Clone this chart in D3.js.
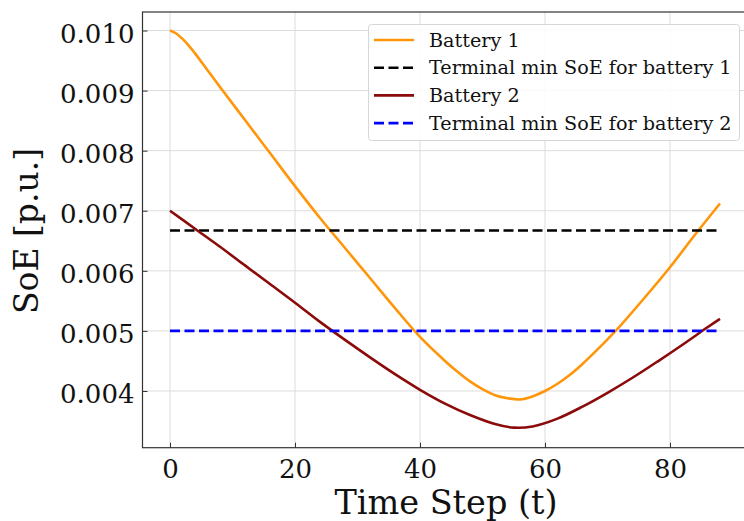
<!DOCTYPE html>
<meta charset="utf-8">
<script src="https://cdn.jsdelivr.net/npm/d3@7"></script>
<style>
  body { margin: 0; background: #fff; }
  svg { display: block; }
  text { font-family: "DejaVu Serif", serif; fill: #111; }
</style>
<body>
<script>

// values
var steps1 = [0, 1, 2, 3, 4, 6, 8, 12, 16, 20, 24, 28, 32, 36, 40, 44, 46, 48, 50, 52, 54, 56, 58, 60, 62, 64, 66, 68, 70, 72, 76, 80, 84, 88]
var battery1 = [0.01000, 0.00995, 0.00986, 0.00975, 0.00962, 0.00934, 0.00906, 0.00851, 0.00796, 0.00741, 0.00688, 0.00638, 0.00588, 0.00538, 0.00490,
                0.00450, 0.00432, 0.00416, 0.00403, 0.00393, 0.00388, 0.00386, 0.00391, 0.00400, 0.00412, 0.00427, 0.00445, 0.00465, 0.00486, 0.00508,
                0.00556, 0.00606, 0.00660, 0.00712]
var steps2 = [0, 4, 8, 12, 16, 20, 24, 28, 32, 36, 40, 44, 48, 52, 55, 58, 62, 66, 70, 74, 78, 82, 86, 88]
var battery2 = [0.00700, 0.00670, 0.00640, 0.00609, 0.00578, 0.00547, 0.00515, 0.00485, 0.00456, 0.00428, 0.00402, 0.00379, 0.00360, 0.00345,
                0.00339, 0.00341, 0.00354, 0.00374, 0.00397, 0.00422, 0.00449, 0.00477, 0.00506, 0.00520]
var termMin1 = 0.00667
var termMin2 = 0.00500
var lastStep = 88

var xTicks = [0, 20, 40, 60, 80]
var yTicks = [0.004, 0.005, 0.006, 0.007, 0.008, 0.009, 0.010]
var legendLabels = ["Battery 1", "Terminal min SoE for battery 1", "Battery 2", "Terminal min SoE for battery 2"]

var W = 744, H = 521
var pLeft = 142.5, pRight = 747.5, pTop = 12, pBottom = 447.7

var x = d3.scaleLinear().domain([-4.4, 92.4]).range([pLeft, pRight])
var y = d3.scaleLinear().domain([0.003056, 0.010308]).range([pBottom, pTop])

var svg = d3.select("body").append("svg")
            .attr("width", W)
            .attr("height", H)

// grid
svg.append("g").selectAll("line").data(xTicks).enter().append("line")
   .attr("x1", d => x(d)).attr("x2", d => x(d))
   .attr("y1", pTop).attr("y2", pBottom)
   .attr("stroke", "#dcdcdc").attr("stroke-width", 1)
svg.append("g").selectAll("line").data(yTicks).enter().append("line")
   .attr("x1", pLeft).attr("x2", pRight)
   .attr("y1", d => y(d)).attr("y2", d => y(d))
   .attr("stroke", "#dcdcdc").attr("stroke-width", 1)

// axes, ticks pointing inward
var xAxis = svg.append("g")
    .attr("transform", "translate(0," + pBottom + ")")
    .call(d3.axisBottom(x).tickValues(xTicks).tickFormat(d3.format("d")).tickSizeInner(-5).tickSizeOuter(0).tickPadding(11))
var yAxis = svg.append("g")
    .attr("transform", "translate(" + pLeft + ",0)")
    .call(d3.axisLeft(y).tickValues(yTicks).tickFormat(d3.format(".3f")).tickSizeInner(-5).tickSizeOuter(0).tickPadding(8))
xAxis.select(".domain").remove()
yAxis.select(".domain").remove()
svg.selectAll(".tick line").attr("stroke", "#333")
svg.selectAll(".tick text").style("font-family", '"DejaVu Serif", serif').style("font-size", "26px").attr("fill", "#111")
yAxis.selectAll(".tick text").attr("dy", "0.45em")
xAxis.selectAll(".tick text").attr("dy", "0.75em")

// frame
svg.append("rect")
   .attr("x", pLeft).attr("y", pTop)
   .attr("width", pRight - pLeft).attr("height", pBottom - pTop)
   .attr("fill", "none").attr("stroke", "#333").attr("stroke-width", 1.2)

// lines
var line = d3.line().x(d => x(d[0])).y(d => y(d[1])).curve(d3.curveCatmullRom.alpha(0.5))

svg.append("path").attr("d", line(d3.zip(steps1, battery1)))
   .attr("fill", "none").attr("stroke", "#ff960a").attr("stroke-width", 2.6)
svg.append("line").attr("x1", x(0)).attr("x2", x(lastStep)).attr("y1", y(termMin1)).attr("y2", y(termMin1))
   .attr("stroke", "#000").attr("stroke-width", 2.6).attr("stroke-dasharray", "10 4.5")
svg.append("path").attr("d", line(d3.zip(steps2, battery2)))
   .attr("fill", "none").attr("stroke", "#8b0a0a").attr("stroke-width", 2.6)
svg.append("line").attr("x1", x(0)).attr("x2", x(lastStep)).attr("y1", y(termMin2)).attr("y2", y(termMin2))
   .attr("stroke", "#0000ff").attr("stroke-width", 2.6).attr("stroke-dasharray", "10 4.5")

// axis labels
svg.append("text")
   .attr("x", 446).attr("y", 514)
   .style("text-anchor", "middle").style("font-size", "33.5px")
   .text("Time Step (t)")
svg.append("text")
   .attr("transform", "translate(38," + 231 + ") rotate(-90)")
   .style("text-anchor", "middle").style("font-size", "33px")
   .text("SoE [p.u.]")

// legend
var legendStyles = [
  {color: "#ff960a", dash: null},
  {color: "#000", dash: "10 4.5"},
  {color: "#8b0a0a", dash: null},
  {color: "#0000ff", dash: "10 4.5"}
]
var lg = svg.append("g")
lg.append("rect").attr("x", 368.5).attr("y", 24.5).attr("width", 371).attr("height", 116)
  .attr("rx", 3).attr("fill", "#fff").attr("fill-opacity", 0.85).attr("stroke", "#d6d6d6")
var rows = lg.selectAll("g.row").data(legendLabels).enter().append("g")
  .attr("transform", (d, i) => "translate(0," + (40 + i * 27.7) + ")")
rows.append("line").attr("x1", 374).attr("x2", 414).attr("y1", 0).attr("y2", 0)
  .attr("stroke", (d, i) => legendStyles[i].color).attr("stroke-width", 2.6)
  .attr("stroke-dasharray", (d, i) => legendStyles[i].dash)
rows.append("text").attr("x", 429).attr("y", 6.5).style("font-size", "19.2px").text(d => d)

</script>
</body>
